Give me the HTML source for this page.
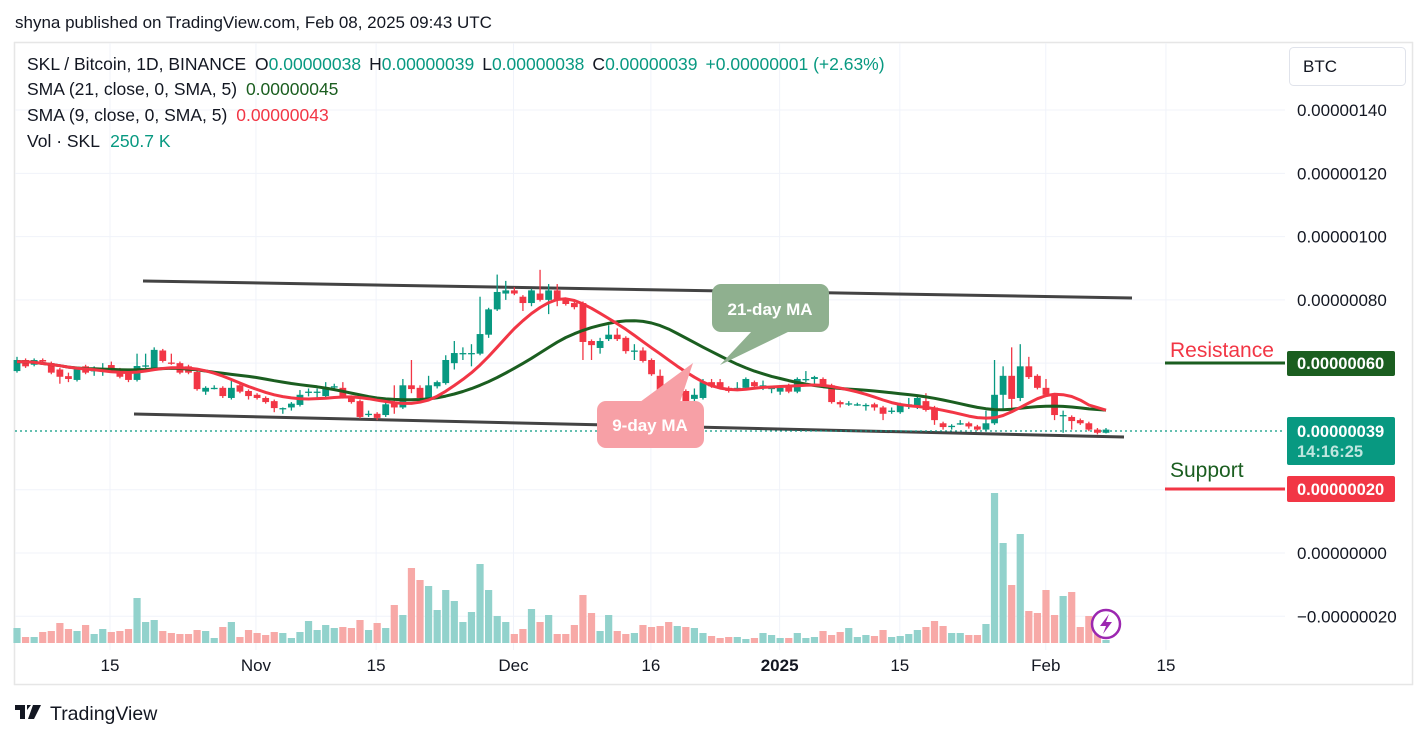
<!DOCTYPE html>
<html><head><meta charset="utf-8"><style>
html,body{margin:0;padding:0;background:#fff;}
svg{display:block;font-family:"Liberation Sans",Arial,sans-serif;}
</style></head><body>
<svg id="chart" width="1427" height="738" viewBox="0 0 1427 738" xmlns="http://www.w3.org/2000/svg">
<rect x="0" y="0" width="1427" height="738" fill="#fff"/>
<text x="15" y="28" font-size="17" fill="#131722">shyna published on TradingView.com, Feb 08, 2025 09:43 UTC</text>
<rect x="14.5" y="42.5" width="1398" height="642" fill="none" stroke="#e6e6e6" stroke-width="1.5"/>
<g id="grid"></g>
<g id="vols"></g>
<g id="trend">
<line x1="143" y1="281" x2="1132" y2="298" stroke="#434343" stroke-width="3"/>
<line x1="134" y1="414" x2="1124" y2="437" stroke="#434343" stroke-width="3"/>
</g>
<line x1="15" y1="431" x2="1285" y2="431" stroke="#089981" stroke-width="1.3" stroke-dasharray="2,3"/>
<g id="candles"></g>
<g id="smas"></g>
<g>
<polygon points="752,331 790,331 720,365" fill="#8fb08f"/>
<rect x="712" y="284" width="117" height="48" rx="9" fill="#8fb08f"/>
<text x="770" y="315" font-size="17" font-weight="bold" fill="#fff" text-anchor="middle">21-day MA</text>
</g>
<g>
<polygon points="640,402 680,402 693,363" fill="#f7a0a6"/>
<rect x="597" y="401" width="107" height="47" rx="9" fill="#f7a0a6"/>
<text x="650" y="431" font-size="17" font-weight="bold" fill="#fff" text-anchor="middle">9-day MA</text>
</g>
<line x1="1165" y1="363" x2="1285" y2="363" stroke="#1b5e20" stroke-width="3"/>
<text x="1170" y="357" font-size="21" fill="#f23645">Resistance</text>
<line x1="1165" y1="489" x2="1285" y2="489" stroke="#f23645" stroke-width="3"/>
<text x="1170" y="477" font-size="21" fill="#1b5e20">Support</text>
<g id="yaxis"></g>
<g id="xaxis"></g>
<rect x="1289.5" y="47.5" width="116" height="38" rx="4" fill="#fff" stroke="#e0e3eb"/>
<text x="1303" y="72" font-size="17" fill="#131722">BTC</text>
<rect x="1287" y="351" width="108" height="25" rx="2" fill="#1b5e20"/>
<text x="1297" y="369" font-size="16.5" font-weight="bold" fill="#fff">0.00000060</text>
<rect x="1287" y="417" width="108" height="48" rx="2" fill="#089981"/>
<text x="1297" y="437" font-size="16.5" font-weight="bold" fill="#fff">0.00000039</text>
<text x="1297" y="457" font-size="16.5" font-weight="bold" fill="#bfe6df">14:16:25</text>
<rect x="1287" y="476" width="108" height="26" rx="2" fill="#f23645"/>
<text x="1297" y="495" font-size="16.5" font-weight="bold" fill="#fff">0.00000020</text>
<g font-size="17.5">
<text x="27" y="70" fill="#131722">SKL / Bitcoin, 1D, BINANCE <tspan dx="4">O</tspan><tspan fill="#089981">0.00000038</tspan><tspan dx="8">H</tspan><tspan fill="#089981">0.00000039</tspan><tspan dx="8">L</tspan><tspan fill="#089981">0.00000038</tspan><tspan dx="8">C</tspan><tspan fill="#089981">0.00000039</tspan><tspan dx="8" fill="#089981">+0.00000001 (+2.63%)</tspan></text>
<text x="27" y="95" fill="#131722">SMA (21, close, 0, SMA, 5) <tspan dx="4" fill="#1b5e20">0.00000045</tspan></text>
<text x="27" y="121" fill="#131722">SMA (9, close, 0, SMA, 5) <tspan dx="4" fill="#f23645">0.00000043</tspan></text>
<text x="27" y="147" fill="#131722">Vol · SKL <tspan dx="6" fill="#089981">250.7 K</tspan></text>
</g>
<g>
<circle cx="1106" cy="624" r="14" fill="#fff" stroke="#9c27b0" stroke-width="2.5"/>
<path d="M1109,614 L1100,626 L1106,626 L1103,634 L1112,622 L1106,622 Z" fill="#9c27b0"/>
</g>
<g>
<path d="M15,705 h10 v14 h-5 v-9 h-5 z M27,705 h4 l-4,5 z M33,705 h8 l-7,14 h-6 z" fill="#131722"/>
<text x="50" y="720" font-size="19.5" fill="#131722">TradingView</text>
</g>
</svg>
<script>
const opens=[57.5,61,59.5,61,60,58,55.9,54.7,59,57.5,57.7,59.4,58,57,54.7,59,58.5,64,60.2,60,59,57.2,51,52.2,52.2,49,53,51.2,50,49,48,45.8,46,46.8,51,51,49.6,52.7,52.2,49.3,48,44,44,43.6,47.4,46,53,52.2,49,52.7,53.7,60,63.2,63.2,63,69,77,82,83,81,79,82,80,83,80,79,79,67,64.8,67.6,69,68,64,64,61,56,52,49.6,51.2,48.7,49,54,54,52.2,52.2,52.2,54,53,52.2,51,53,51,55,55,55,53,47.7,47.3,47,46.8,47,46,45,44.5,47,46,48,46,41,40.2,41,41,40,39,41,50,56,49,59,56,52.2,50,43.6,43,42,41,39,38];
const highs=[62,61.5,61.5,61.5,60.5,58.5,57,58.5,59.5,59,60,60.5,58.5,57.5,63,63,65,64.5,63,60.5,59.5,57.5,52.7,53,52.7,55,53.5,51.7,50.5,49.5,48.5,46,47.7,51.5,52,52,54,53.5,54,49.8,48.5,45,44.5,48.5,53,55,61,53,56,54.5,62.5,67,65,66,81,77.5,88,86,84,81.5,83.5,89.5,85,85,80.5,79.5,79.5,67.5,68,72,71,68.5,66,65,61.5,58,54,52,51.7,52,55,55,55,52.7,54,55.5,54.5,54.5,52.7,52.7,53.5,55.5,57.5,56,55.5,53.5,48.2,48,47.5,47.3,47.5,46.5,46,47.5,49,49.5,50.5,46.5,41.5,40.7,42,41.5,40.5,45,61,59,65,66,62,56.5,55,50.5,45,43.5,42.5,41.5,39.5,39.5];
const lows=[57,58.5,59,60,56.5,53.5,54,54.2,56.5,56,56,57,55.2,54,54.2,58.5,58,60.2,59.5,56.5,56.5,51.3,50,51.7,49,48.5,50.5,48.5,48.5,47.2,44.5,44,45,46.3,49.5,49,49,51.5,48.8,47.2,42.5,43,42,43,44,45.5,50.5,48,48.5,52,53.2,58,61,59,62.5,68,76.5,80,81.5,76.5,78,79.5,75.5,78,78.2,77,61,61,63,67,67,63,61,60.2,56,51,48,44.5,47.2,47,48.5,52.2,51.7,50.7,51.5,51.7,52.2,51.5,50.5,50,50.5,50.5,54,53.5,52.5,47.2,46,46.5,46.5,45,45,42,44,44,45.5,45.5,44.7,40.5,39,39,40.5,39.3,38.7,38.5,40.5,45,45,48,55,51.7,49.5,42,38,39,40.5,38.5,37.5,37.8];
const closes=[61,59,61,60.5,57,55.7,55,58,57,57.8,57.8,57.5,55.7,54.7,59.1,59.3,64.2,60.7,60,57,57,51.8,52.2,52.2,49.6,52.2,51,49.6,49,47.7,45.8,45.8,47.2,50,51,51,52.2,52.7,49.3,47.7,43,44,42.7,47,46,53,51.8,49,53,54,61,63.2,63.2,63.2,69.2,77,82.5,83,82,79,83,80,83,80,78.7,77.7,66.7,65.7,67,69,67.6,63.8,64,60.7,56.5,51.5,49.6,51.2,47.7,50,54,52.7,52.2,51.2,52.2,55,52.7,53,52.2,52.2,51,55,55,55.6,53,47.7,47,47.3,47,46.8,46,44,45,47,47,49,45.2,42,39.8,40.2,41,40,39,41,50,56,48.7,59,55.6,52.2,50,43.6,43.6,41.7,41,39,38,39];
const volumes=[15,6,6,11,12,20,14,12,18,9,14,11,12,14,45,21,23,12,10,9,9,13,12,5,16,21,6,13,10,8,11,10,5,11,22,13,18,15,16,15,23,13,20,15,38,28,75,63,57,33,53,42,21,31,79,53,27,21,9,14,34,21,28,9,
9,18,48,30,12,28,12,9,10,18,16,17,21,17,16,15,10,7,5,6,6,4,5,10,8,5,5,10,5,6,12,8,11,15,6,8,7,13,6,7,9,13,16,22,17,10,10,8,8,19,150,100,58,109,32,30,53,28,47,51,16,27,16,3];
const priceTicks=[140,120,100,80,60,20,0,-20];
const priceTickLabels=["0.00000140","0.00000120","0.00000100","0.00000080","0.00000060","0.00000020","0.00000000","−0.00000020"];
const timeTickDays=[0,17,31,47,63,78,92,109,123];
const timeTickLabels=["15","Nov","15","Dec","16","2025","15","Feb","15"];

const NS="http://www.w3.org/2000/svg";
const N=closes.length;
function yP(p){return 553-3.164*p;}
function xI(i){return 17+i*(1089/(N-1));}
function xD(d){return 110+d*8.585;}
function yV(v){return 643-v*1.0;}
function mk(tag,attrs,parent){const e=document.createElementNS(NS,tag);for(const k in attrs)e.setAttribute(k,attrs[k]);parent.appendChild(e);return e;}
const UP="#089981",DN="#f23645";
const grid=document.getElementById('grid');
priceTicks.forEach(p=>{
  const l=mk('line',{x1:15,x2:1285,y1:yP(p),y2:yP(p),stroke:'#f0f3fa','stroke-width':1},grid);
  
  
});
timeTickDays.forEach(d=>{
  const l=mk('line',{x1:xD(d),x2:xD(d),y1:43,y2:650,stroke:'#f0f3fa','stroke-width':1},grid);
  
  
});
const yax=document.getElementById('yaxis');
priceTicks.forEach((p,i)=>{
  const t=mk('text',{x:1297,y:yP(p)+6,'font-size':17,fill:'#131722'},yax);
  t.textContent=priceTickLabels[i];
  
  
});
const xax=document.getElementById('xaxis');
timeTickDays.forEach((d,i)=>{
  const t=mk('text',{x:xD(d),y:671,'font-size':17,fill:'#131722','text-anchor':'middle'},xax);
  if(timeTickLabels[i]==="2025")t.setAttribute('font-weight','bold');
  t.textContent=timeTickLabels[i];
  
  
});
const vg=document.getElementById('vols');
volumes.forEach((v,i)=>{
  const up=closes[i]>=opens[i];
  const r=mk('rect',{x:xI(i)-3.6,y:yV(v),width:7.2,height:v*1.0,fill:up?'#92d2cc':'#f7a9a7'},vg);
  
  
});
const cg=document.getElementById('candles');
for(let i=0;i<N;i++){
  const up=closes[i]>=opens[i],c=up?UP:DN,x=xI(i);
  const w=mk('line',{x1:x,x2:x,y1:yP(highs[i]),y2:yP(lows[i]),stroke:c,'stroke-width':1.3},cg);
  
  
  const top=yP(Math.max(opens[i],closes[i])),bot=yP(Math.min(opens[i],closes[i]));
  const b=mk('rect',{x:x-3.4,y:top,width:6.8,height:Math.max(1.3,bot-top),fill:c},cg);
  
  
}
function sma(arr,n){return arr.map((_,i)=>{const s=arr.slice(Math.max(0,i-n+1),i+1);return s.reduce((a,b)=>a+b,0)/s.length;});}
function centered(arr,k){return arr.map((_,i)=>{const s=arr.slice(Math.max(0,i-k),Math.min(arr.length,i+k+1));return s.reduce((a,b)=>a+b,0)/s.length;});}
const sg=document.getElementById('smas');
[[21,'#1b5e20','sma-21-line'],[9,'#f23645','sma-9-line']].forEach(([n,col,name])=>{
  const s=centered(sma(closes,n),2);
  const d=s.map((v,i)=>(i?'L':'M')+xI(i).toFixed(1)+','+yP(v).toFixed(1)).join(' ');
  const p=mk('path',{d:d,fill:'none',stroke:col,'stroke-width':3,'stroke-linejoin':'round'},sg);
  
  
});
</script>
</body></html>
